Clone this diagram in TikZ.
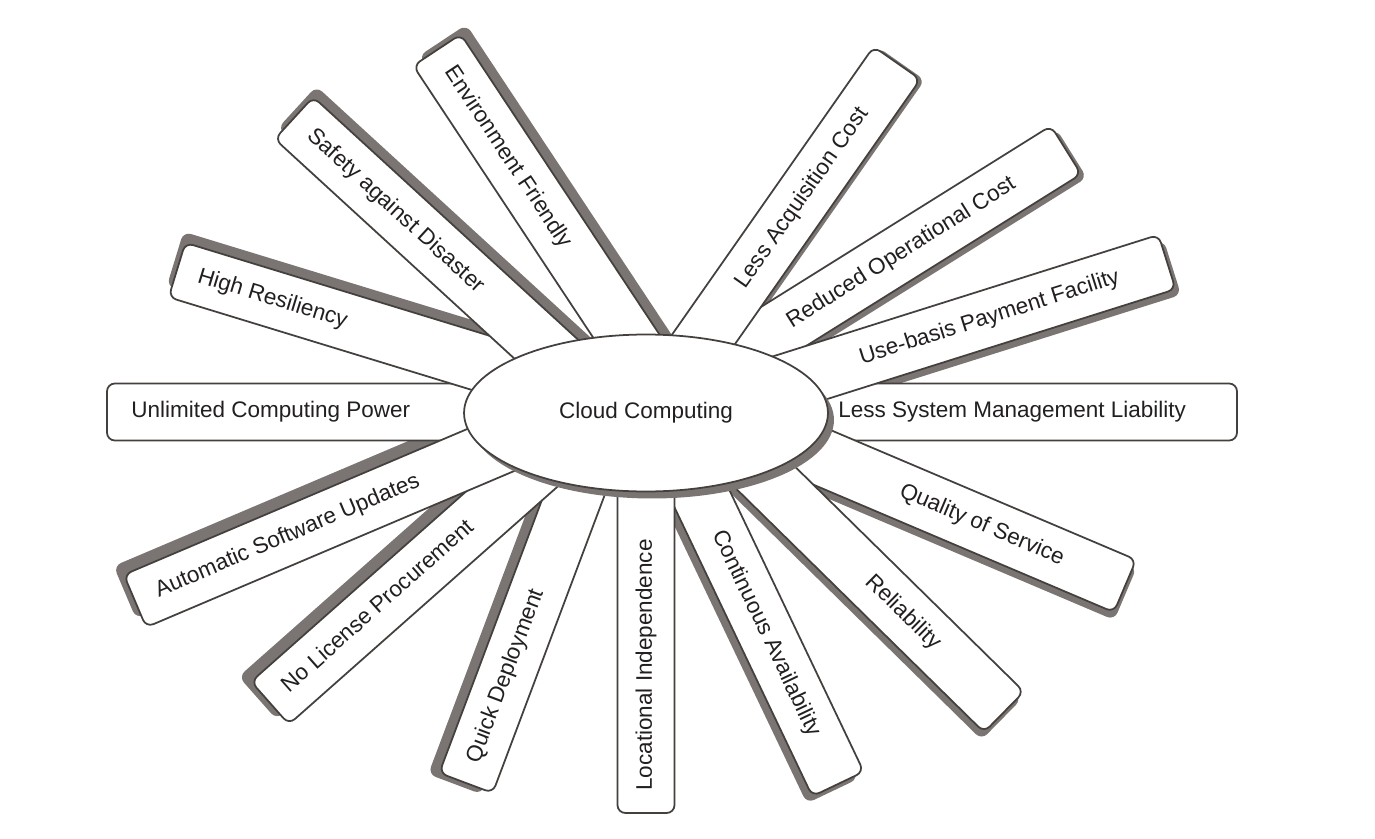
\documentclass[tikz,border=0pt]{standalone}
\usepackage{fontspec}
\setmainfont{Liberation Sans}
\usepackage{tikz}
\usetikzlibrary{shapes.geometric}
\definecolor{edgegray}{RGB}{68,64,62}
\definecolor{shadegray}{RGB}{122,117,114}
\definecolor{inkblack}{RGB}{35,31,32}
\tikzset{
  petal/.style={draw=edgegray, fill=white, line width=1pt, rounded corners=4.5pt},
  petalshade/.style={fill=shadegray, rounded corners=4.5pt},
  petaltext/.style={text=inkblack, font=\fontsize{12.8}{15}\selectfont, inner sep=0pt, anchor=west, text height=1.5ex, text depth=.25ex},
  hub/.style={ellipse, draw=edgegray, fill=white, line width=1pt, minimum width=7.28cm, minimum height=3.14cm, inner sep=0pt, text=inkblack, font=\fontsize{12.8}{15}\selectfont}
}

\begin{document}
\begin{tikzpicture}[x=0.02cm, y=0.02cm]
\useasboundingbox (0,0) rectangle (1375,-838);
%%------------ shadows
\fill[petalshade, shift={(177,-270)}, rotate=163] (-445,-38.5) rectangle (5,18.5);
\fill[petalshade, shift={(294,-118)}, rotate=137.5] (-425,-38.5) rectangle (5,18.5);
\fill[petalshade, shift={(437,-50)}, rotate=123.5] (-415,-38.5) rectangle (5,18.5);
\fill[petalshade, shift={(897,-63)}, rotate=55] (-398,-32.5) rectangle (2,24.5);
\fill[petalshade, shift={(1066,-150)}, rotate=32] (-457,-34.5) rectangle (3,22.5);
\fill[petalshade, shift={(1167,-262)}, rotate=17.5] (-446.5,-35.5) rectangle (3.5,21.5);
\fill[petalshade, shift={(1125,-586)}, rotate=-23] (-416.5,-35.5) rectangle (3.5,21.5);
\fill[petalshade, shift={(1004,-712)}, rotate=-44.5] (-396.5,-35.5) rectangle (3.5,21.5);
\fill[petalshade, shift={(838,-784)}, rotate=-64.5] (-386,-36.5) rectangle (4,20.5);
\fill[petalshade, shift={(466,-783)}, rotate=249.4] (-370,-38.5) rectangle (5,18.5);
\fill[petalshade, shift={(270,-703)}, rotate=221.5] (-384,-40.5) rectangle (6,16.5);
\fill[petalshade, shift={(135,-601)}, rotate=203] (-444,-40.5) rectangle (6,16.5);
%%------------ petals
\draw[petal, shift={(1237,-412)}, rotate=0] (-450,-28.5) rectangle (0,28.5);
\draw[petal, shift={(107,-412)}, rotate=180] (-400,-28.5) rectangle (0,28.5);
\draw[petal, shift={(1066,-150)}, rotate=32] (-460,-28.5) rectangle (0,28.5);
\draw[petal, shift={(177,-270)}, rotate=163] (-450,-28.5) rectangle (0,28.5);
\draw[petal, shift={(294,-118)}, rotate=137.5] (-430,-28.5) rectangle (0,28.5);
\draw[petal, shift={(437,-50)}, rotate=123.5] (-420,-28.5) rectangle (0,28.5);
\draw[petal, shift={(897,-63)}, rotate=55] (-400,-28.5) rectangle (0,28.5);
\draw[petal, shift={(1167,-262)}, rotate=17.5] (-450,-28.5) rectangle (0,28.5);
\draw[petal, shift={(1125,-586)}, rotate=-23] (-420,-28.5) rectangle (0,28.5);
\draw[petal, shift={(1004,-712)}, rotate=-44.5] (-400,-28.5) rectangle (0,28.5);
\draw[petal, shift={(838,-784)}, rotate=-64.5] (-390,-28.5) rectangle (0,28.5);
\draw[petal, shift={(646,-813)}, rotate=270] (-380,-28.5) rectangle (0,28.5);
\draw[petal, shift={(466,-783)}, rotate=249.4] (-375,-28.5) rectangle (0,28.5);
\draw[petal, shift={(270,-703)}, rotate=221.5] (-390,-28.5) rectangle (0,28.5);
\draw[petal, shift={(135,-601)}, rotate=203] (-450,-28.5) rectangle (0,28.5);
%%------------ texts
\node[petaltext] (unlimited) at ([shift={(0:24)}]107,-412) {Unlimited Computing Power};
\node[petaltext, rotate=-17] (resiliency) at ([shift={(-17:22)}]177,-270) {High Resiliency};
\node[petaltext, rotate=-42.5] (safety) at ([shift={(-42.5:22)}]294,-118) {Safety against Disaster};
\node[petaltext, rotate=-56.5] (environment) at ([shift={(-56.5:22)}]437,-50) {Environment Friendly};
\node[petaltext, rotate=55] (acquisition) at ([shift={(235:273)}]897,-63) {Less Acquisition Cost};
\node[petaltext, rotate=32] (operational) at ([shift={(212:327)}]1066,-150) {Reduced Operational Cost};
\node[petaltext, rotate=17.5] (payment) at ([shift={(197.5:322)}]1167,-262) {Use-basis Payment Facility};
\node[petaltext] (management) at ([shift={(180:399)}]1237,-412) {Less System Management Liability};
\node[petaltext, rotate=-23] (service) at ([shift={(157:244)}]1125,-586) {Quality of Service};
\node[petaltext, rotate=-44.5] (reliability) at ([shift={(135.5:190)}]1004,-712) {Reliability};
\node[petaltext, rotate=-64.5] (availability) at ([shift={(115.5:280)}]838,-784) {Continuous Availability};
\node[petaltext, rotate=90] (locational) at ([shift={(90:22)}]646,-813) {Locational Independence};
\node[petaltext, rotate=69.4] (deployment) at ([shift={(69.4:22)}]466,-783) {Quick Deployment};
\node[petaltext, rotate=41.5] (license) at ([shift={(41.5:21)}]270,-703) {No License Procurement};
\node[petaltext, rotate=23] (updates) at ([shift={(23:23)}]135,-601) {Automatic Software Updates};
%%------------ centre
\fill[shadegray] (652,-420) ellipse [x radius=3.64cm, y radius=1.57cm];
\node[hub] (cloud) at (646,-413) {Cloud Computing};
\end{tikzpicture}
\end{document}
